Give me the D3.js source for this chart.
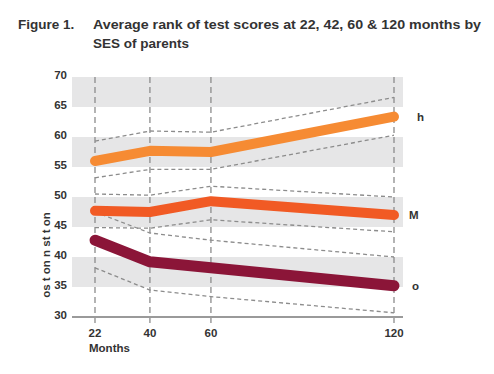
<!DOCTYPE html>
<html>
<head>
<meta charset="utf-8">
<script src="https://cdn.jsdelivr.net/npm/d3@7"></script>
<style>
  body { margin: 0; background: #fff; }
  text { font-family: "Liberation Sans", Arial, Helvetica, sans-serif; fill: #333; }
</style>
</head>
<body>
<div id="chart"></div>
<script>
// Data
var months = [22, 40, 60, 120];
var yTicks = [30, 35, 40, 45, 50, 55, 60, 65, 70];
var bands = [[65, 70], [55, 60], [45, 50], [35, 40]];
var seriesNames = ["h", "M", "o"];

var highMean  = [56.0, 57.7, 57.5, 63.4];
var highUpper = [59.3, 61.0, 60.8, 66.6];
var highLower = [53.2, 54.6, 54.6, 60.3];

var midMean   = [47.7, 47.5, 49.3, 47.0];
var midUpper  = [50.5, 50.3, 51.8, 50.0];
var midLower  = [44.9, 44.8, 46.2, 44.2];

var lowMean   = [42.8, 39.2, 38.2, 35.2];
var lowUpper  = [47.5, 44.0, 42.8, 40.0];
var lowLower  = [38.2, 34.5, 33.4, 30.7];

var W = 494, H = 374;
var svg = d3.select("#chart").append("svg").attr("width", W).attr("height", H);

// Title
var title = svg.append("g").attr("font-weight", "bold").attr("font-size", 13.5);
title.append("text").attr("x", 18).attr("y", 29).text("Figure 1.");
title.append("text").attr("x", 93).attr("y", 29)
  .attr("textLength", 388).attr("lengthAdjust", "spacingAndGlyphs")
  .text("Average rank of test scores at 22, 42, 60 & 120 months by");
title.append("text").attr("x", 93).attr("y", 48).text("SES of parents");

// Scales
var x = d3.scaleLinear().domain([22, 120]).range([95, 394]);
var y = d3.scaleLinear().domain([30, 70]).range([317, 77]);
var left = 72, right = 403;

// Grey bands
svg.selectAll("rect.band").data(bands).enter().append("rect")
  .attr("class", "band")
  .attr("x", left).attr("width", right - left)
  .attr("y", function(d) { return y(d[1]); })
  .attr("height", function(d) { return y(d[0]) - y(d[1]); })
  .attr("fill", "#e6e6e7");

// Vertical dashed lines
svg.selectAll("line.vgrid").data(months).enter().append("line")
  .attr("class", "vgrid")
  .attr("x1", function(d) { return x(d); }).attr("x2", function(d) { return x(d); })
  .attr("y1", y(70)).attr("y2", y(30) + 6)
  .attr("stroke", "#8c8c8c").attr("stroke-width", 1.3)
  .attr("stroke-dasharray", "6,4");

// Bottom axis line
svg.append("line").attr("x1", left).attr("x2", right)
  .attr("y1", y(30)).attr("y2", y(30))
  .attr("stroke", "#9a9a9a").attr("stroke-width", 2);

// Y tick labels
svg.append("g").attr("font-weight", "bold").attr("font-size", 11.5)
  .selectAll("text").data(yTicks).enter().append("text")
  .attr("x", 67).attr("y", function(d) { return y(d) + 2; })
  .attr("text-anchor", "end").text(function(d) { return d; });

// X tick labels
svg.append("g").attr("font-weight", "bold").attr("font-size", 11.5)
  .selectAll("text").data(months).enter().append("text")
  .attr("x", function(d) { return x(d); }).attr("y", 337)
  .attr("text-anchor", "middle").text(function(d) { return d; });
svg.append("text").attr("x", 89).attr("y", 352)
  .attr("font-weight", "bold").attr("font-size", 11.5).text("Months");

// Y axis label
svg.append("text")
  .attr("transform", "translate(50,255) rotate(-90)")
  .attr("text-anchor", "middle").attr("font-weight", "bold").attr("font-size", 11.5)
  .text("os t on n st t on");

var line = d3.line()
  .x(function(d, i) { return x(months[i]); })
  .y(function(d) { return y(d); });

// Confidence bounds
[highUpper, highLower, midUpper, midLower, lowUpper, lowLower].forEach(function(s) {
  svg.append("path").attr("d", line(s))
    .attr("fill", "none").attr("stroke", "#8c8c8c")
    .attr("stroke-width", 1.3).attr("stroke-dasharray", "4,3");
});

// Mean lines
var means = [highMean, midMean, lowMean];
var colors = ["#f68b33", "#f15a24", "#8b1538"];
var widths = [10, 10, 11];
var labelDx = [23, 15, 18];
means.forEach(function(s, i) {
  svg.append("path").attr("d", line(s))
    .attr("fill", "none").attr("stroke", colors[i])
    .attr("stroke-width", widths[i])
    .attr("stroke-linecap", "round").attr("stroke-linejoin", "round");
  svg.append("text")
    .attr("x", x(120) + labelDx[i]).attr("y", y(s[s.length - 1]) + 4)
    .attr("font-weight", "bold").attr("font-size", 11.5)
    .text(seriesNames[i]);
});
</script>
</body>
</html>
